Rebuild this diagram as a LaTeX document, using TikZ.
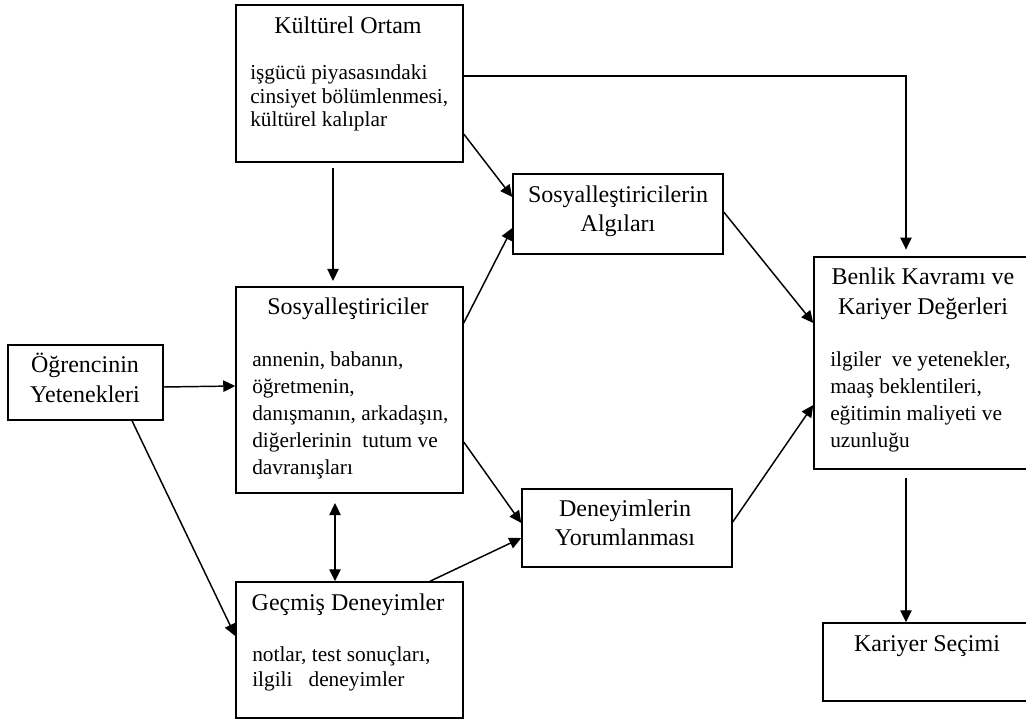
\documentclass[tikz,border=0pt]{standalone}
\usepackage{fontspec}
\setmainfont{Liberation Serif}
\usetikzlibrary{arrows.meta,fit}
\begin{document}
\begin{tikzpicture}[x=0.75pt,y=-0.75pt,
  box/.style={draw, line width=1.1pt, inner sep=0pt},
  ttl/.style={inner sep=0pt, anchor=base},
  bdy/.style={inner sep=0pt, anchor=base west},
  arr/.style={line width=1.1pt, -{Triangle[length=9pt,width=8.5pt]}},
  darr/.style={line width=1.1pt, {Triangle[length=9pt,width=8.5pt]}-{Triangle[length=9pt,width=8.5pt]}}]
\useasboundingbox (0,0) rectangle (1026,720);
\clip (0,0) rectangle (1026,720);
\newcommand\tfont[1]{\fontsize{18}{#1}\selectfont}
\newcommand\bfont[1]{\fontsize{16}{#1}\selectfont}

% boxes
\node[box, fit={(236,5) (463,162)}] (kult) {};
\node[box, fit={(513,174) (723,254)}] (alg) {};
\node[box, fit={(814,257) (1040,469)}] (benlik) {};
\node[box, fit={(8,345) (163,420)}] (ogr) {};
\node[box, fit={(236,287) (463,493)}] (sos) {};
\node[box, fit={(522,489) (732,567)}] (den) {};
\node[box, fit={(236,582) (463,718)}] (gec) {};
\node[box, fit={(823,623) (1040,701)}] (kar) {};

% texts
\node[ttl] (kultT) at (348,34) {\tfont{22}Kültürel Ortam};
\node[bdy] (kultB) at (250,80) {\bfont{17.6}\begin{tabular}[t]{@{}l@{}}işgücü piyasasındaki\\cinsiyet bölümlenmesi,\\kültürel kalıplar\end{tabular}};
\node[ttl] (algT) at (618,203) {\tfont{21.75}\begin{tabular}[t]{@{}c@{}}Sosyalleştiricilerin\\Algıları\end{tabular}};
\node[ttl] (benT) at (923,285) {\tfont{22.5}\begin{tabular}[t]{@{}c@{}}Benlik Kavramı ve\\Kariyer Değerleri\end{tabular}};
\node[bdy] (benB) at (830,367) {\bfont{20.25}\begin{tabular}[t]{@{}l@{}}ilgiler\ \ ve yetenekler,\\maaş beklentileri,\\eğitimin maliyeti ve\\uzunluğu\end{tabular}};
\node[ttl] (ogrT) at (85,373) {\tfont{22.5}\begin{tabular}[t]{@{}c@{}}Öğrencinin\\Yetenekleri\end{tabular}};
\node[ttl] (sosT) at (348,315) {\tfont{22}Sosyalleştiriciler};
\node[bdy] (sosB) at (252,367) {\bfont{20.25}\begin{tabular}[t]{@{}l@{}}annenin, babanın,\\öğretmenin,\\danışmanın, arkadaşın,\\diğerlerinin\ \ tutum ve\\davranışları\end{tabular}};
\node[ttl] (denT) at (625,517) {\tfont{21.75}\begin{tabular}[t]{@{}c@{}}Deneyimlerin\\Yorumlanması\end{tabular}};
\node[ttl] (gecT) at (348,610) {\tfont{22}Geçmiş Deneyimler};
\node[bdy] (gecB) at (252,662) {\bfont{18.75}\begin{tabular}[t]{@{}l@{}}notlar, test sonuçları,\\ilgili\ \ \ deneyimler\end{tabular}};
\node[ttl] (karT) at (927,652) {\tfont{22}Kariyer Seçimi};

% connectors
\draw[arr, shorten >=5pt] (kult.east |- 0,76) -| (benlik.north -| 906,0);
\draw[arr] (kult.east |- 0,134) -- (alg.west |- 0,197);
\draw[arr, shorten <=4pt, shorten >=4pt] (kult.south -| 333,0) -- (sos.north -| 333,0);
\draw[arr] (sos.east |- 0,323) -- (alg.west |- 0,228);
\draw[arr] (ogr.east |- 0,387) -- (sos.west |- 0,386);
\draw[arr] (ogr.south -| 132,0) -- (gec.west |- 0,636);
\draw[arr] (sos.east |- 0,442) -- (den.west |- 0,523);
\draw[darr, shorten <=7pt] (sos.south -| 335,0) -- (gec.north -| 335,0);
\draw[arr] (gec.north -| 430,0) -- (den.west |- 0,538);
\draw[arr] (alg.east |- 0,212) -- (benlik.west |- 0,323);
\draw[arr] (den.east |- 0,522) -- (benlik.west |- 0,405);
\draw[arr, shorten <=6pt] (benlik.south -| 906,0) -- (kar.north -| 906,0);
\end{tikzpicture}
\end{document}
